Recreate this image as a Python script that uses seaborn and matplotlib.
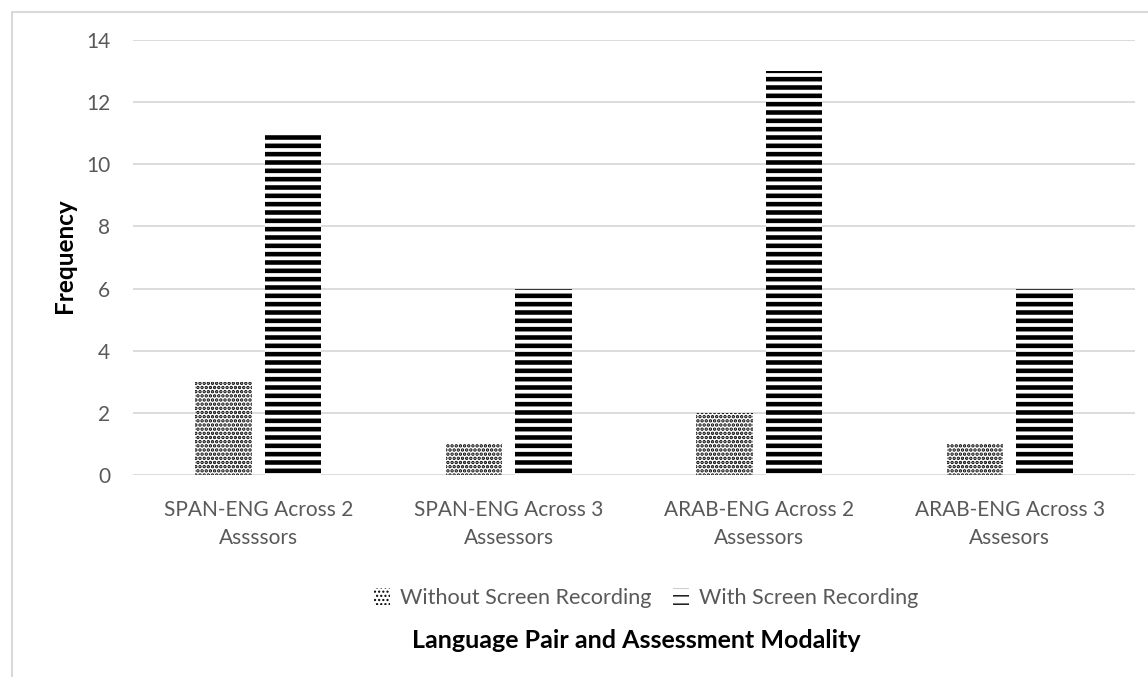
import matplotlib
matplotlib.use("Agg")
import matplotlib.pyplot as plt
from matplotlib.lines import Line2D
import seaborn as sns
import pandas as pd

categories = [
    "SPAN-ENG Across 2\nAssssors",
    "SPAN-ENG Across 3\nAssessors",
    "ARAB-ENG Across 2\nAssessors",
    "ARAB-ENG Across 3\nAssesors",
]
series_names = ["Without Screen Recording", "With Screen Recording"]
without_recording = [3, 1, 2, 1]
with_recording = [11, 6, 13, 6]
y_ticks = [0, 2, 4, 6, 8, 10, 12, 14]

df = pd.DataFrame({
    "category": categories * 2,
    "series": [series_names[0]] * 4 + [series_names[1]] * 4,
    "value": without_recording + with_recording,
})

sns.set_theme(style="white")
plt.rcParams["font.family"] = ["Lato", "DejaVu Sans"]

W, H = 1148, 677
fig = plt.figure(figsize=(W / 100, H / 100), dpi=100)
ax = fig.add_axes([133 / W, 1 - 475 / H, (1135 - 133) / W, (475 - 40) / H])

sns.barplot(
    data=df, x="category", y="value", hue="series",
    order=categories, hue_order=series_names,
    palette=["white", "white"], width=0.555, gap=0.19,
    linewidth=0, edgecolor="black", errorbar=None, ax=ax, legend=False,
)

hatches = ["....", "--"]
hatch_widths = [1.7, 3.3]
for cont, h, hw in zip(ax.containers, hatches, hatch_widths):
    for bar in cont:
        bar.set_hatch(h)
        bar.set_edgecolor("black")
        bar.set_linewidth(0)
        if hasattr(bar, "set_hatch_linewidth"):
            bar.set_hatch_linewidth(hw)

ax.set_ylim(0, 14)
ax.set_xlim(-0.5, 3.5)
ax.set_yticks(y_ticks)
ax.yaxis.grid(True, color="#d9d9d9", linewidth=1.3)
ax.set_axisbelow(True)
for side in ["top", "right", "left", "bottom"]:
    ax.spines[side].set_visible(False)
ax.tick_params(axis="both", length=0, labelsize=15, colors="#595959")
ax.tick_params(axis="y", pad=16.5)
ax.tick_params(axis="x", pad=18)
ax.set_xlabel("")
ax.set_ylabel("Frequency", fontsize=17.5, fontweight="bold", color="black")
ax.yaxis.set_label_coords(65 / W, 1 - 256 / H, transform=fig.transFigure)
ax.yaxis.label.set_va("center")
for lab in ax.get_xticklabels():
    lab.set_linespacing(1.5)

handles = [plt.Rectangle((0, 0), 1, 1, facecolor="white", edgecolor="black",
                         linewidth=0, hatch=h) for h in hatches]
for hd, hw in zip(handles, [1.1, 2.2]):
    if hasattr(hd, "set_hatch_linewidth"):
        hd.set_hatch_linewidth(hw)
fig.legend(handles, series_names, loc="center", bbox_to_anchor=(646 / W, 1 - 598 / H),
           ncol=2, frameon=False, fontsize=15.6, labelcolor="#595959",
           handlelength=0.75, handleheight=0.8, handletextpad=0.45, columnspacing=1.0)

fig.text(636 / W, 1 - 640 / H, "Language Pair and Assessment Modality",
         ha="center", va="center", fontsize=18, fontweight="bold", color="black")

# light frame along the top and left edges
fig.add_artist(Line2D([12 / W, 12 / W], [0, 1 - 12 / H],
                      transform=fig.transFigure, color="#d9d9d9", linewidth=1.5))
fig.add_artist(Line2D([12 / W, 1], [1 - 12 / H, 1 - 12 / H],
                      transform=fig.transFigure, color="#d9d9d9", linewidth=1.5))

fig.savefig("out.png", dpi=100, facecolor="white")
